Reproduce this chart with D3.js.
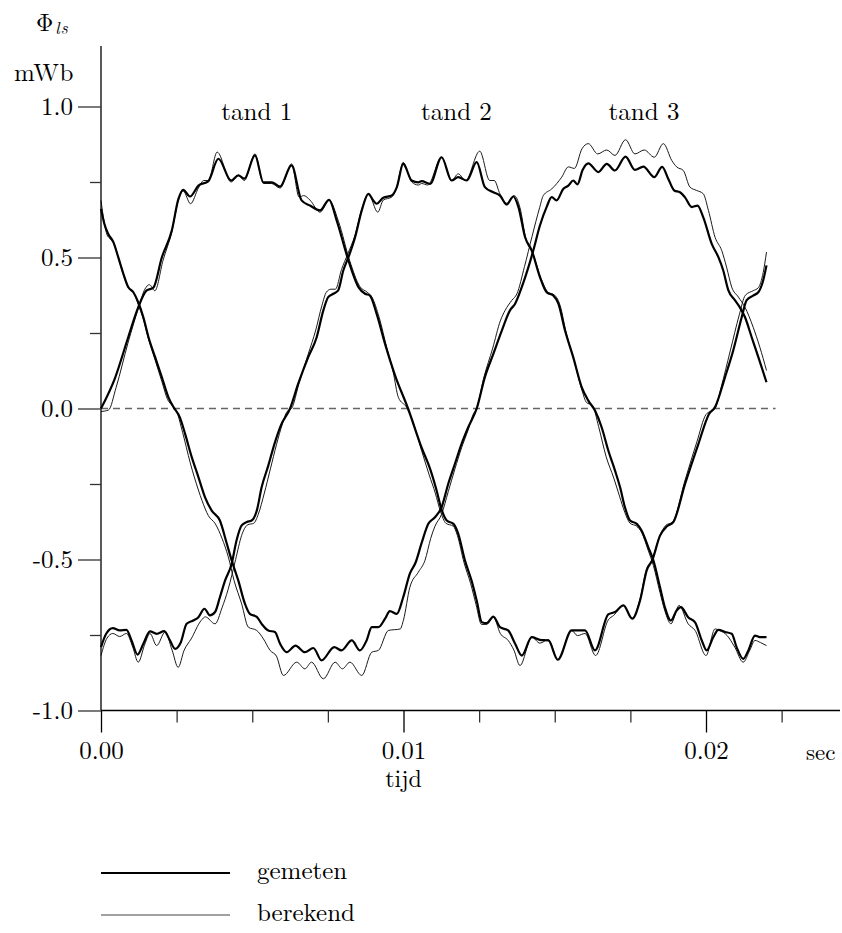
<!DOCTYPE html>
<html>
<head>
<meta charset="utf-8">
<script src="https://cdn.jsdelivr.net/npm/d3@7"></script>
</head>
<body style="margin:0;background:#fff">
<svg id="chart" width="842" height="933" style="display:block;background:#fff"></svg>
<script>
// Leakage flux per stator tooth: [time (ms), flux (mWb)]
const tand1Gemeten = [
  [0,0.0],[0.46,0.10],[0.90,0.236],[1.23,0.335],[1.51,0.391],[1.73,0.40],[2.01,0.50],[2.34,0.589],
  [2.56,0.694],[2.72,0.724],[2.94,0.702],[3.22,0.738],[3.55,0.753],[3.88,0.827],[4.30,0.755],[4.54,0.772],
  [4.74,0.761],[5.09,0.838],[5.37,0.749],[5.64,0.749],[5.92,0.735],[6.30,0.805],[6.63,0.689],[6.91,0.672],
  [7.24,0.656],[7.54,0.691],[7.79,0.623],[8.18,0.49],[8.51,0.402],[8.73,0.38],[8.89,0.374],[9.11,0.314],
  [9.39,0.214],[9.72,0.11],[10.15,0.0],[10.60,-0.13],[10.88,-0.20],[11.09,-0.27],[11.26,-0.335],
  [11.43,-0.371],[11.65,-0.382],[11.81,-0.415],[12.03,-0.503],[12.25,-0.57],[12.42,-0.636],[12.59,-0.708],
  [12.75,-0.711],[12.97,-0.689],[13.19,-0.724],[13.46,-0.735],[13.69,-0.779],[13.91,-0.818],[14.24,-0.757],
  [14.51,-0.766],[14.79,-0.768],[15.10,-0.832],[15.56,-0.735],[16.0,-0.735],[16.33,-0.801],[16.77,-0.682],
  [16.99,-0.674],[17.27,-0.652],[17.56,-0.696],[17.82,-0.636],[18.04,-0.536],[18.22,-0.503],[18.48,-0.421],
  [18.70,-0.391],[18.92,-0.376],[19.31,-0.249],[19.75,-0.117],[20.10,-0.018],[20.30,0.005],[20.63,0.104],
  [20.90,0.192],[21.18,0.302],[21.34,0.358],[21.56,0.374],[21.73,0.385],[21.89,0.424],[22.0,0.474]
];
const tand1Berekend = [
  [0,-0.01],[0.25,-0.005],[0.5,0.07],[0.90,0.22],[1.23,0.33],[1.45,0.395],[1.60,0.41],[1.78,0.39],
  [2.05,0.49],[2.34,0.585],[2.56,0.69],[2.72,0.72],[2.96,0.678],[3.22,0.73],[3.40,0.755],[3.55,0.755],
  [3.84,0.849],[4.30,0.75],[4.54,0.772],[4.74,0.755],[5.09,0.843],[5.37,0.745],[5.64,0.745],[5.92,0.73],
  [6.30,0.81],[6.55,0.70],[6.70,0.705],[6.91,0.69],[7.24,0.65],[7.54,0.69],[7.85,0.62],[8.22,0.49],
  [8.55,0.405],[8.80,0.385],[8.95,0.37],[9.20,0.30],[9.45,0.20],[9.66,0.12],[9.83,0.037],[10.10,0.004],
  [10.30,-0.04],[10.60,-0.14],[10.85,-0.22],[11.05,-0.28],[11.22,-0.34],[11.40,-0.38],[11.65,-0.39],
  [11.78,-0.42],[12.0,-0.51],[12.22,-0.58],[12.40,-0.65],[12.58,-0.715],[12.75,-0.715],[12.97,-0.69],
  [13.20,-0.745],[13.46,-0.768],[13.65,-0.80],[13.85,-0.851],[14.24,-0.757],[14.51,-0.777],[14.79,-0.765],
  [15.10,-0.832],[15.56,-0.735],[15.75,-0.752],[16.0,-0.745],[16.35,-0.818],[16.77,-0.70],[16.95,-0.685],
  [17.27,-0.652],[17.56,-0.696],[17.82,-0.63],[18.04,-0.53],[18.22,-0.50],[18.48,-0.42],[18.66,-0.388],
  [18.90,-0.375],[19.30,-0.24],[19.70,-0.11],[20.0,-0.02],[20.30,0.0],[20.50,0.07],[20.80,0.19],
  [21.10,0.31],[21.30,0.375],[21.56,0.39],[21.73,0.40],[21.89,0.45],[22.0,0.518]
];
const tand2Gemeten = [
  [0,-0.79],[0.17,-0.746],[0.39,-0.727],[0.62,-0.735],[0.84,-0.733],[1.01,-0.768],[1.21,-0.815],
  [1.40,-0.779],[1.62,-0.738],[1.84,-0.746],[2.09,-0.737],[2.28,-0.768],[2.45,-0.796],[2.64,-0.774],
  [2.83,-0.713],[3.05,-0.702],[3.22,-0.691],[3.42,-0.663],[3.60,-0.685],[3.77,-0.674],[3.93,-0.625],
  [4.10,-0.57],[4.32,-0.514],[4.48,-0.437],[4.65,-0.387],[4.82,-0.376],[4.98,-0.371],[5.15,-0.338],
  [5.31,-0.261],[5.53,-0.189],[5.75,-0.112],[5.95,-0.055],[6.25,0.0],[6.52,0.082],[6.85,0.17],
  [7.13,0.236],[7.35,0.325],[7.51,0.369],[7.68,0.38],[7.84,0.391],[8.01,0.457],[8.18,0.501],[8.40,0.567],
  [8.62,0.656],[8.84,0.711],[9.0,0.689],[9.11,0.678],[9.33,0.698],[9.61,0.705],[9.78,0.733],[9.99,0.81],
  [10.27,0.755],[10.49,0.749],[10.60,0.753],[10.88,0.744],[11.26,0.832],[11.59,0.755],[11.81,0.766],
  [12.09,0.755],[12.42,0.816],[12.69,0.733],[12.97,0.716],[13.19,0.705],[13.41,0.675],[13.63,0.702],
  [13.80,0.667],[14.02,0.567],[14.24,0.523],[14.51,0.435],[14.73,0.385],[14.95,0.374],[15.12,0.347],
  [15.34,0.258],[15.61,0.17],[15.89,0.071],[16.11,0.026],[16.33,-0.007],[16.55,-0.062],[16.77,-0.139],
  [16.99,-0.205],[17.16,-0.261],[17.32,-0.327],[17.49,-0.371],[17.71,-0.382],[17.87,-0.404],[18.09,-0.459],
  [18.26,-0.503],[18.48,-0.592],[18.64,-0.658],[18.84,-0.702],[19.03,-0.669],[19.17,-0.658],[19.41,-0.691],
  [19.64,-0.708],[19.86,-0.768],[20.02,-0.801],[20.24,-0.757],[20.41,-0.733],[20.63,-0.74],[20.85,-0.746],
  [21.01,-0.79],[21.23,-0.829],[21.40,-0.801],[21.62,-0.752],[21.78,-0.757],[22.0,-0.757]
];
const tand2Berekend = [
  [0,-0.818],[0.2,-0.76],[0.39,-0.745],[0.62,-0.755],[0.84,-0.745],[1.05,-0.79],[1.23,-0.84],[1.45,-0.78],
  [1.62,-0.745],[1.84,-0.785],[2.12,-0.74],[2.35,-0.80],[2.55,-0.857],[2.75,-0.80],[2.98,-0.763],
  [3.31,-0.702],[3.45,-0.69],[3.77,-0.713],[4.0,-0.66],[4.20,-0.60],[4.45,-0.50],[4.65,-0.42],
  [4.85,-0.385],[5.05,-0.38],[5.20,-0.35],[5.40,-0.28],[5.60,-0.20],[5.80,-0.12],[6.0,-0.05],[6.15,-0.01],
  [6.30,0.0],[6.55,0.085],[6.85,0.18],[7.10,0.26],[7.30,0.34],[7.45,0.385],[7.60,0.395],[7.75,0.395],
  [7.95,0.46],[8.15,0.51],[8.40,0.575],[8.62,0.66],[8.84,0.711],[9.15,0.65],[9.33,0.69],[9.61,0.70],
  [9.78,0.735],[9.99,0.815],[10.27,0.75],[10.49,0.74],[10.60,0.745],[10.80,0.74],[11.26,0.832],
  [11.59,0.755],[11.81,0.777],[12.05,0.755],[12.52,0.852],[12.85,0.755],[13.0,0.755],[13.19,0.71],
  [13.41,0.68],[13.66,0.705],[13.85,0.665],[14.05,0.56],[14.27,0.515],[14.55,0.43],[14.78,0.385],
  [15.0,0.375],[15.18,0.34],[15.38,0.25],[15.64,0.16],[15.90,0.06],[16.05,0.02],[16.25,0.01],
  [16.45,-0.06],[16.70,-0.16],[16.95,-0.23],[17.14,-0.29],[17.32,-0.345],[17.49,-0.38],[17.71,-0.39],
  [17.87,-0.41],[18.09,-0.47],[18.26,-0.52],[18.48,-0.61],[18.64,-0.67],[18.84,-0.713],[19.11,-0.652],
  [19.41,-0.713],[19.64,-0.735],[20.0,-0.818],[20.30,-0.73],[20.45,-0.735],[20.70,-0.752],[20.95,-0.79],
  [21.23,-0.84],[21.45,-0.80],[21.62,-0.768],[21.80,-0.775],[22.0,-0.785]
];
const tand3Gemeten = [
  [0,0.661],[0.11,0.612],[0.24,0.578],[0.41,0.551],[0.57,0.501],[0.74,0.446],[0.90,0.402],[1.07,0.385],
  [1.23,0.352],[1.40,0.302],[1.57,0.236],[1.79,0.17],[2.01,0.104],[2.23,0.037],[2.40,0.004],[2.61,-0.03],
  [2.78,-0.084],[3.0,-0.161],[3.22,-0.227],[3.44,-0.294],[3.66,-0.338],[3.93,-0.371],[4.16,-0.448],
  [4.32,-0.503],[4.54,-0.57],[4.76,-0.647],[4.92,-0.68],[5.15,-0.69],[5.31,-0.713],[5.53,-0.735],
  [5.75,-0.74],[5.92,-0.779],[6.14,-0.807],[6.43,-0.785],[6.74,-0.807],[7.02,-0.793],[7.29,-0.834],
  [7.71,-0.79],[7.95,-0.801],[8.29,-0.768],[8.56,-0.801],[8.78,-0.768],[8.95,-0.724],[9.17,-0.724],
  [9.39,-0.696],[9.55,-0.671],[9.78,-0.68],[9.99,-0.625],[10.21,-0.547],[10.40,-0.51],[10.60,-0.445],
  [10.82,-0.382],[11.04,-0.36],[11.26,-0.327],[11.48,-0.249],[11.70,-0.183],[11.92,-0.117],[12.14,-0.062],
  [12.42,0.0],[12.69,0.104],[12.97,0.181],[13.25,0.258],[13.52,0.325],[13.69,0.347],[13.91,0.402],
  [14.13,0.468],[14.29,0.523],[14.51,0.606],[14.73,0.667],[14.90,0.70],[15.06,0.689],[15.28,0.727],
  [15.45,0.738],[15.61,0.755],[15.75,0.742],[15.92,0.79],[16.11,0.812],[16.44,0.783],[16.72,0.81],
  [16.99,0.788],[17.34,0.834],[17.65,0.79],[17.93,0.801],[18.29,0.766],[18.55,0.80],[18.75,0.761],
  [18.95,0.722],[19.14,0.716],[19.30,0.70],[19.53,0.667],[19.72,0.672],[19.91,0.633],[20.19,0.545],
  [20.41,0.501],[20.57,0.457],[20.74,0.391],[20.96,0.358],[21.12,0.335],[21.29,0.302],[21.51,0.236],
  [21.73,0.17],[22.0,0.087]
];
const tand3Berekend = [
  [0,0.689],[0.10,0.62],[0.20,0.575],[0.30,0.562],[0.45,0.54],[0.60,0.49],[0.75,0.44],[0.90,0.40],
  [1.07,0.385],[1.23,0.345],[1.40,0.295],[1.57,0.23],[1.79,0.16],[2.01,0.09],[2.20,0.03],[2.35,0.01],
  [2.50,-0.01],[2.70,-0.08],[2.95,-0.18],[3.22,-0.27],[3.34,-0.305],[3.55,-0.355],[3.78,-0.382],
  [4.0,-0.43],[4.21,-0.492],[4.40,-0.57],[4.65,-0.647],[4.87,-0.724],[5.15,-0.735],[5.37,-0.763],
  [5.59,-0.801],[5.80,-0.82],[6.03,-0.884],[6.47,-0.84],[6.74,-0.862],[6.96,-0.84],[7.35,-0.895],
  [7.74,-0.84],[7.98,-0.862],[8.23,-0.84],[8.62,-0.884],[8.95,-0.807],[9.17,-0.801],[9.50,-0.735],
  [9.89,-0.73],[10.0,-0.70],[10.21,-0.592],[10.49,-0.542],[10.71,-0.503],[10.90,-0.43],[11.04,-0.39],
  [11.26,-0.35],[11.48,-0.275],[11.70,-0.20],[11.92,-0.13],[12.14,-0.07],[12.30,-0.02],[12.42,0.0],
  [12.65,0.10],[12.95,0.20],[13.20,0.29],[13.36,0.325],[13.58,0.358],[13.75,0.38],[14.0,0.47],
  [14.25,0.57],[14.50,0.665],[14.62,0.705],[14.90,0.727],[15.23,0.766],[15.45,0.80],[15.65,0.795],
  [15.90,0.86],[16.11,0.877],[16.42,0.843],[16.72,0.856],[16.99,0.838],[17.34,0.89],[17.65,0.843],
  [17.96,0.856],[18.29,0.832],[18.59,0.877],[18.87,0.821],[19.03,0.80],[19.25,0.788],[19.47,0.733],
  [19.69,0.722],[19.91,0.711],[20.08,0.656],[20.30,0.567],[20.52,0.523],[20.68,0.468],[20.85,0.402],
  [21.07,0.369],[21.29,0.335],[21.56,0.269],[21.78,0.203],[22.0,0.126]
];

// Tooth labels and the time (ms) each is centred on
const toothNames = ["tand 1", "tand 2", "tand 3"];
const toothLabelTimes = [5.15, 11.75, 17.95];

// Axis ticks (time in s, flux in mWb)
const xMajorTicks = [0, 0.01, 0.02];
const xMinorTicks = [0.0025, 0.005, 0.0075, 0.0125, 0.015, 0.0175, 0.0225];
const yMajorTicks = [-1.0, -0.5, 0.0, 0.5, 1.0];
const yMinorTicks = [-0.75, -0.25, 0.25, 0.75];
const legendNames = ["gemeten", "berekend"];

const FONT = '"Latin Modern Roman", "Liberation Serif", serif';
const svg = d3.select("#chart");

// apply the serif face inline on each text element
const serif = (sel, size) => sel
  .style("font-family", FONT)
  .style("font-size", size + "px")
  .style("fill", "#000");

const x = d3.scaleLinear().domain([0, 0.02]).range([101, 706]);
const y = d3.scaleLinear().domain([-1, 1]).range([710.5, 106.5]);
const axisY = y(-1);
const xEnd = 0.02443;   // x-axis line runs a little past the last tick
const dashEnd = 0.0223;

const series = [
  { data: tand1Berekend, thick: false }, { data: tand2Berekend, thick: false }, { data: tand3Berekend, thick: false },
  { data: tand1Gemeten, thick: true },  { data: tand2Gemeten, thick: true },  { data: tand3Gemeten, thick: true }
];

// zero reference line
svg.append("line")
  .attr("x1", x(0)).attr("x2", x(dashEnd))
  .attr("y1", y(0)).attr("y2", y(0))
  .attr("stroke", "#666").attr("stroke-width", 1.3)
  .attr("stroke-dasharray", "7,5");

// curves
const line = d3.line()
  .x(d => x(d[0] / 1000))
  .y(d => y(d[1]))
  .curve(d3.curveMonotoneX);

svg.append("g").selectAll("path")
  .data(series)
  .join("path")
  .attr("d", s => line(s.data))
  .attr("fill", "none")
  .attr("stroke", s => s.thick ? "#000" : "#1a1a1a")
  .attr("stroke-width", s => s.thick ? 2.2 : 1.0)
  .attr("stroke-linejoin", "round");

// x axis
const gx = svg.append("g").attr("transform", `translate(0,${axisY})`);
gx.append("line").attr("x1", x(0)).attr("x2", x(xEnd)).attr("stroke", "#000").attr("stroke-width", 1.3);
gx.append("g")
  .call(d3.axisBottom(x).tickValues(xMajorTicks).tickSize(22).tickPadding(9).tickFormat(d => d.toFixed(2)))
  .call(g => g.select(".domain").remove())
  .call(g => g.selectAll("line").attr("stroke", "#000").attr("stroke-width", 1.3))
  .call(g => serif(g.selectAll("text"), 25));
gx.append("g")
  .call(d3.axisBottom(x).tickValues(xMinorTicks).tickSize(12).tickFormat(""))
  .call(g => g.select(".domain").remove())
  .call(g => g.selectAll("line").attr("stroke", "#333").attr("stroke-width", 1.3));

// y axis
const gy = svg.append("g").attr("transform", `translate(${x(0)},0)`);
gy.append("line").attr("y1", 46).attr("y2", axisY).attr("stroke", "#000").attr("stroke-width", 1.3);
gy.append("g")
  .call(d3.axisLeft(y).tickValues(yMajorTicks).tickSize(23).tickPadding(5).tickFormat(d => d.toFixed(1)))
  .call(g => g.select(".domain").remove())
  .call(g => g.selectAll("line").attr("stroke", "#333").attr("stroke-width", 1.3))
  .call(g => serif(g.selectAll("text"), 25));
gy.append("g")
  .call(d3.axisLeft(y).tickValues(yMinorTicks).tickSize(11).tickFormat(""))
  .call(g => g.select(".domain").remove())
  .call(g => g.selectAll("line").attr("stroke", "#333").attr("stroke-width", 1.3));

// axis titles
const yTitle = serif(svg.append("text").attr("x", 36).attr("y", 31), 24);
yTitle.append("tspan").text("\u03A6");
yTitle.append("tspan").style("font-size", "17px").style("font-style", "italic")
  .attr("dy", 3).attr("dx", 2).attr("letter-spacing", 1).text("ls");
serif(svg.append("text").attr("x", 14).attr("y", 81).attr("letter-spacing", 0.5).text("mWb"), 25);
serif(svg.append("text").attr("x", 806).attr("y", 760).text("sec"), 23);
serif(svg.append("text").attr("x", x(0.01)).attr("y", 787).attr("text-anchor", "middle").text("tijd"), 24);

// tooth labels
serif(svg.append("g").selectAll("text")
  .data(toothNames)
  .join("text")
  .attr("x", (d, i) => x(toothLabelTimes[i] / 1000))
  .attr("y", 120)
  .attr("text-anchor", "middle")
  .text(d => d), 25);

// legend
const legend = svg.append("g").selectAll("g")
  .data(legendNames)
  .join("g")
  .attr("transform", (d, i) => `translate(101,${873 + i * 42})`);
legend.append("line")
  .attr("x1", 0).attr("x2", 129)
  .attr("stroke", (d, i) => i === 0 ? "#000" : "#444")
  .attr("stroke-width", (d, i) => i === 0 ? 2.2 : 1.2);
serif(legend.append("text")
  .attr("x", 156).attr("y", 6)
  .text(d => d), 25);
</script>
</body>
</html>
